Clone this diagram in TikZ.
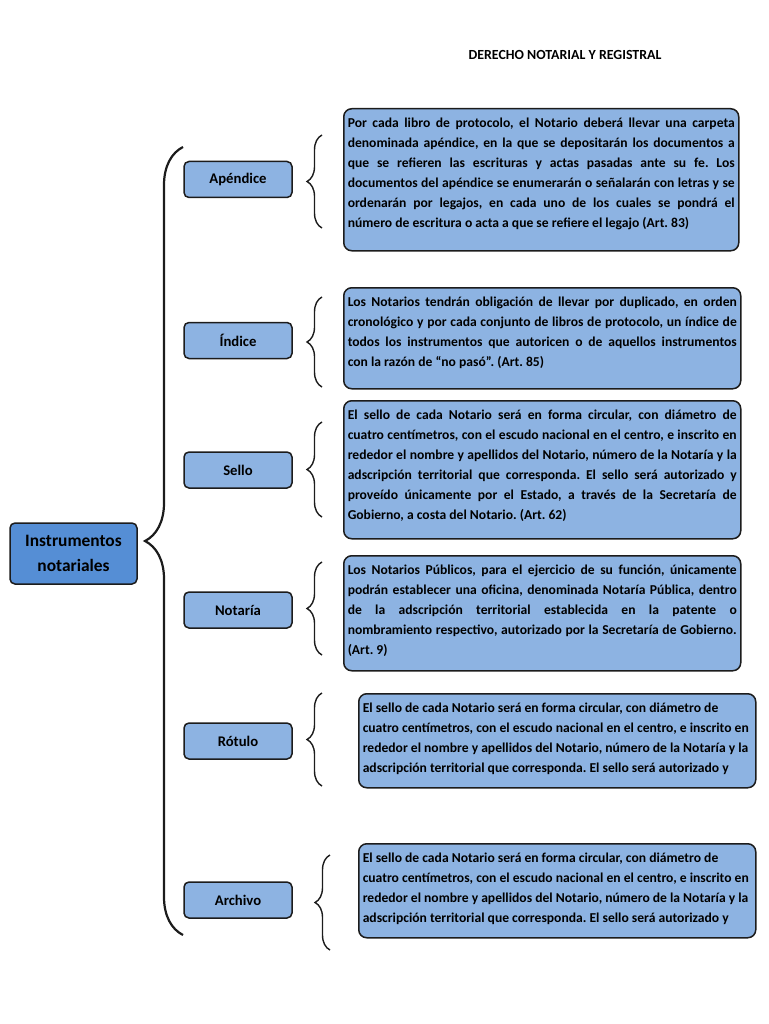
\documentclass[tikz,border=0pt]{standalone}
\usepackage{fontspec}
\setmainfont{Carlito}
\usetikzlibrary{decorations.pathreplacing}
\definecolor{Ink}{HTML}{1C1C1C}
\definecolor{BoxBlue}{HTML}{8DB3E2}
\definecolor{RootBlue}{HTML}{558ED5}
\tikzset{
  catbox/.style={draw=Ink,line width=1.5pt,rounded corners=5pt,fill=BoxBlue,minimum width=108pt,minimum height=36pt,font=\fontsize{14.7}{18}\selectfont\bfseries},
  txtbox/.style={draw=Ink,line width=1.5pt,rounded corners=8pt,fill=BoxBlue,anchor=north west,inner xsep=4pt,inner ysep=0pt,font=\fontsize{13.6}{20}\selectfont\bfseries},
  bracel/.style={decorate,decoration={brace,amplitude=15pt},draw=Ink,line width=1.4pt}
}
\frenchspacing
\newcommand{\boxtxt}[3]{\parbox[c][#1][t]{#2}{\sloppy\hbadness=10000\rule{0pt}{19pt}#3}}
\newcommand{\boxrag}[3]{\parbox[c][#1][t]{#2}{\raggedright\hbadness=10000\rule{0pt}{19pt}#3}}
\begin{document}
\begin{tikzpicture}[x=1pt,y=-1pt]
  \useasboundingbox (0,0) rectangle (768,1024);
  \node[font=\fontsize{13.9}{16}\selectfont\bfseries] (title) at (565,55) {DERECHO NOTARIAL Y REGISTRAL};
  \node[draw=Ink,line width=1.5pt,rounded corners=5pt,fill=RootBlue,minimum width=127pt,minimum height=61pt,align=center,font=\fontsize{17.4}{25}\selectfont\bfseries] (root) at (73.5,553.5) {Instrumentos\\notariales};
  \draw[bracel,line width=2.2pt,decoration={brace,amplitude=38pt}] (183,935) -- (183,147);
  \node[catbox] (apendice) at (238,179.5) {Apéndice};
  \node[catbox] (indice) at (238,340.5) {Índice};
  \node[catbox] (sello) at (238,470) {Sello};
  \node[catbox] (notaria) at (238,610) {Notaría};
  \node[catbox] (rotulo) at (238,741) {Rótulo};
  \node[catbox] (archivo) at (238,900) {Archivo};
  \foreach \xe/\ya/\yb in {322/228/135,322/387/297,322/517/422,322/655/562,322/786/693,330/950/855}
    \draw[bracel] (\xe,\ya) -- (\xe,\yb);
  \node[txtbox] (apendiceTxt) at (343,108) {\boxtxt{142pt}{387pt}{Por cada libro de protocolo, el Notario deberá llevar una carpeta\linebreak denominada apéndice, en la que se depositarán los documentos a\linebreak que se refieren las escrituras y actas pasadas ante su fe. Los\linebreak documentos del apéndice se enumerarán o señalarán con letras y se\linebreak ordenarán por legajos, en cada uno de los cuales se pondrá el\linebreak número de escritura o acta a que se refiere el legajo (Art. 83)}};
  \node[txtbox] (indiceTxt) at (343,287) {\boxtxt{101pt}{389pt}{Los Notarios tendrán obligación de llevar por duplicado, en orden\linebreak cronológico y por cada conjunto de libros de protocolo, un índice de\linebreak todos los instrumentos que autoricen o de aquellos instrumentos\linebreak con la razón de “no pasó”. (Art. 85)}};
  \node[txtbox] (selloTxt) at (343,400) {\boxtxt{138pt}{389pt}{El sello de cada Notario será en forma circular, con diámetro de\linebreak cuatro centímetros, con el escudo nacional en el centro, e inscrito en\linebreak rededor el nombre y apellidos del Notario, número de la Notaría y la\linebreak adscripción territorial que corresponda. El sello será autorizado y\linebreak proveído únicamente por el Estado, a través de la Secretaría de\linebreak Gobierno, a costa del Notario. (Art. 62)}};
  \node[txtbox] (notariaTxt) at (343,555) {\boxtxt{115pt}{389pt}{Los Notarios Públicos, para el ejercicio de su función, únicamente\linebreak podrán establecer una oficina, denominada Notaría Pública, dentro\linebreak de la adscripción territorial establecida en la patente o\linebreak nombramiento respectivo, autorizado por la Secretaría de Gobierno.\linebreak (Art. 9)}};
  \node[txtbox] (rotuloTxt) at (358,693) {\boxrag{94pt}{389pt}{El sello de cada Notario será en forma circular, con diámetro de\\cuatro centímetros, con el escudo nacional en el centro, e inscrito en\\rededor el nombre y apellidos del Notario, número de la Notaría y la\\adscripción territorial que corresponda. El sello será autorizado y}};
  \node[txtbox] (archivoTxt) at (358,843) {\boxrag{94pt}{389pt}{El sello de cada Notario será en forma circular, con diámetro de\\cuatro centímetros, con el escudo nacional en el centro, e inscrito en\\rededor el nombre y apellidos del Notario, número de la Notaría y la\\adscripción territorial que corresponda. El sello será autorizado y}};
\end{tikzpicture}
\end{document}
